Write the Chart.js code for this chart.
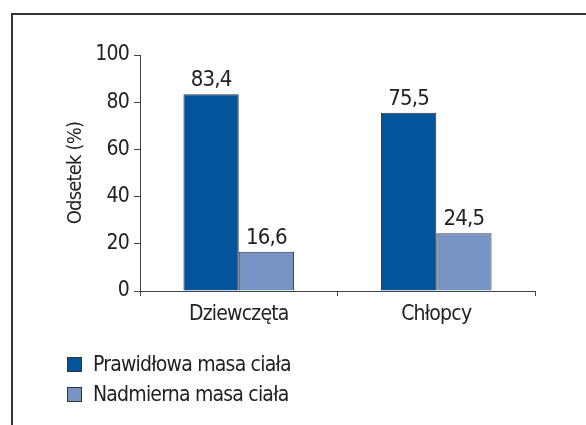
<!DOCTYPE html>
<html>
<head>
<meta charset="utf-8">
<script src="https://cdn.jsdelivr.net/npm/chart.js@4/dist/chart.umd.min.js"></script>
<style>
  html, body { margin: 0; padding: 0; background: #fff; }
  #wrap { position: relative; width: 586px; height: 425px; overflow: hidden; }
  #ramka { position: absolute; left: 11px; top: 13px; right: -5px; bottom: -5px;
           border-top: 2px solid #333; border-left: 2px solid #333; }
  canvas { position: absolute; left: 0; top: 0; }
</style>
</head>
<body>
<div id="wrap">
  <div id="ramka"></div>
  <canvas id="wykres" width="586" height="425"></canvas>
</div>
<script>
const kategorie = ['Dziewczęta', 'Chłopcy'];
const prawidlowa = [83.4, 75.5];
const nadmierna = [16.6, 24.5];
const nazwySerii = ['Prawidłowa masa ciała', 'Nadmierna masa ciała'];
const kolory = ['#02559b', '#7894c5'];

const FONT = "'Liberation Sans Narrow', 'Arial Narrow', 'DejaVu Sans Condensed', sans-serif";

// ciaśniejsze litery, żeby przypominało krój wąski
const zwezenie = {
  id: 'zwezenie',
  beforeDraw(chart) {
    chart.ctx.letterSpacing = '-0.8px';
  }
};

// etykiety z przecinkiem nad słupkami
const etykiety = {
  id: 'etykiety',
  afterDatasetsDraw(chart) {
    const ctx = chart.ctx;
    ctx.save();
    ctx.fillStyle = '#222';
    ctx.font = '22px ' + FONT;
    ctx.textAlign = 'center';
    ctx.textBaseline = 'bottom';
    chart.data.datasets.forEach((ds, i) => {
      chart.getDatasetMeta(i).data.forEach((bar, j) => {
        const txt = ds.data[j].toFixed(1).replace('.', ',');
        ctx.fillText(txt, bar.x, bar.y - 3);
      });
    });
    ctx.restore();
  }
};

// legenda pod wykresem, w kolumnie
const legenda = {
  id: 'legenda',
  afterDraw(chart) {
    const ctx = chart.ctx;
    ctx.save();
    ctx.font = '21px ' + FONT;
    ctx.textBaseline = 'middle';
    nazwySerii.forEach((nazwa, i) => {
      const y = 357 + i * 30;
      ctx.fillStyle = kolory[i];
      ctx.fillRect(67, y, 15, 15);
      ctx.strokeStyle = '#333';
      ctx.lineWidth = 1;
      ctx.strokeRect(67.5, y + 0.5, 14, 14);
      ctx.fillStyle = '#222';
      ctx.fillText(nazwa, 93, y + 9);
    });
    ctx.restore();
  }
};

new Chart(document.getElementById('wykres'), {
  type: 'bar',
  data: {
    labels: kategorie,
    datasets: [
      { label: nazwySerii[0], data: prawidlowa, backgroundColor: kolory[0],
        borderColor: '#333', borderWidth: 1, categoryPercentage: 0.56, barPercentage: 1 },
      { label: nazwySerii[1], data: nadmierna, backgroundColor: kolory[1],
        borderColor: '#333', borderWidth: 1, categoryPercentage: 0.56, barPercentage: 1 }
    ]
  },
  options: {
    responsive: false,
    animation: false,
    layout: { padding: { left: 62, right: 51, top: 55, bottom: 94 } },
    plugins: {
      legend: { display: false },
      tooltip: { enabled: false }
    },
    scales: {
      y: {
        min: 0, max: 100,
        afterFit: s => { s.width = 78; },
        ticks: { stepSize: 20, color: '#222', padding: 5, font: { family: FONT, size: 21 } },
        grid: { drawOnChartArea: false, drawTicks: true, tickLength: 6, color: '#444' },
        border: { color: '#444', width: 1 },
        title: { display: true, text: 'Odsetek (%)', color: '#222', padding: 2,
                 font: { family: FONT, size: 20 } }
      },
      x: {
        afterFit: s => { s.height = 40; },
        ticks: { color: '#222', padding: 6, font: { family: FONT, size: 21 } },
        grid: { drawOnChartArea: false, drawTicks: true, tickLength: 5, offset: true, color: '#444' },
        border: { color: '#444', width: 1 }
      }
    }
  },
  plugins: [zwezenie, etykiety, legenda]
});
</script>
</body>
</html>
